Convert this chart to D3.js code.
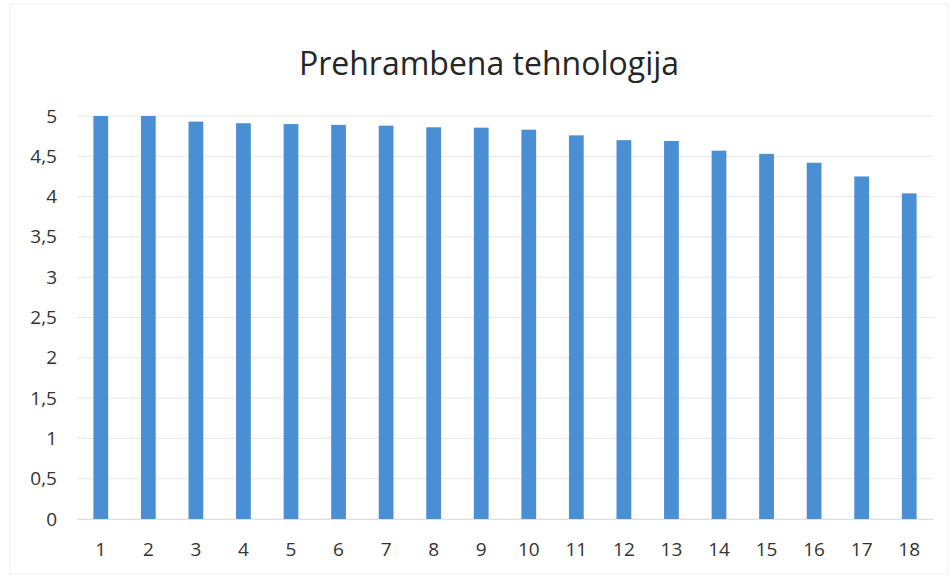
<!DOCTYPE html>
<html>
  <head>
    <title>Prehrambena tehnologija</title>
    <script src="https://d3js.org/d3.v7.min.js" charset="utf-8"></script>
    <style>
    body {
        margin: 0;
        background: white;
        font-family: "Open Sans", "Lato", sans-serif;
    }
    .grid line {
        stroke: #e8e8e8;
    }
    .tick text {
        fill: #333;
    }
    </style>
  </head>
  <body>
    <script>
var categories = ["1","2","3","4","5","6","7","8","9","10","11","12","13","14","15","16","17","18"];
var values = [5.0, 5.0, 4.93, 4.91, 4.90, 4.89, 4.88, 4.86, 4.855, 4.83, 4.76, 4.70, 4.69, 4.57, 4.53, 4.42, 4.25, 4.04];
var yTicks = [0, 0.5, 1, 1.5, 2, 2.5, 3, 3.5, 4, 4.5, 5];
var title = "Prehrambena tehnologija";

var width = 952;
var height = 578;
var margin = {top: 116, right: 19, bottom: 59, left: 77};

var svg = d3.select("body")
  .append("svg")
  .attr("width", width)
  .attr("height", height);

svg.append("rect")
  .attr("x", 10).attr("y", 4)
  .attr("width", width - 14).attr("height", height - 8)
  .attr("fill", "white")
  .attr("stroke", "#efefef");

var x = d3.scaleBand()
  .domain(categories)
  .range([margin.left, width - margin.right])
  .paddingInner(0.69)
  .paddingOuter(0.345);

var y = d3.scaleLinear()
  .domain([0, 5])
  .range([height - margin.bottom, margin.top]);

// gridlines
svg.append("g")
  .attr("class", "grid")
  .selectAll("line")
  .data(yTicks)
  .enter()
  .append("line")
  .attr("x1", margin.left)
  .attr("x2", width - margin.right)
  .attr("y1", function(d){ return y(d); })
  .attr("y2", function(d){ return y(d); });

// bars
svg.append("g")
  .selectAll("rect")
  .data(values)
  .enter()
  .append("rect")
  .attr("fill", "#4a8fd3")
  .attr("x", function(d, i){ return x(categories[i]); })
  .attr("width", x.bandwidth())
  .attr("y", function(d){ return y(d); })
  .attr("height", function(d){ return y(0) - y(d); });

// y axis
var fmt = function(d){ return String(d).replace(".", ","); };
var yAxis = svg.append("g")
  .attr("transform", "translate(" + (margin.left - 17) + ",0)")
  .call(d3.axisLeft(y).tickValues(yTicks).tickFormat(fmt).tickSize(0));
yAxis.select(".domain").remove();
yAxis.selectAll("text")
  .attr("font-size", 19)
  .attr("font-family", "Open Sans, Lato, sans-serif");

// x axis
var xAxis = svg.append("g")
  .attr("transform", "translate(0," + y(0) + ")")
  .call(d3.axisBottom(x).tickSize(0).tickPadding(24));
xAxis.select(".domain").attr("stroke", "#e0e0e0");
xAxis.selectAll("text")
  .attr("font-size", 19)
  .attr("font-family", "Open Sans, Lato, sans-serif");

svg.append("text")
  .attr("x", 489)
  .attr("y", 75)
  .attr("text-anchor", "middle")
  .attr("font-size", 32)
  .attr("fill", "#262626")
  .text(title);
    </script>
  </body>
</html>
